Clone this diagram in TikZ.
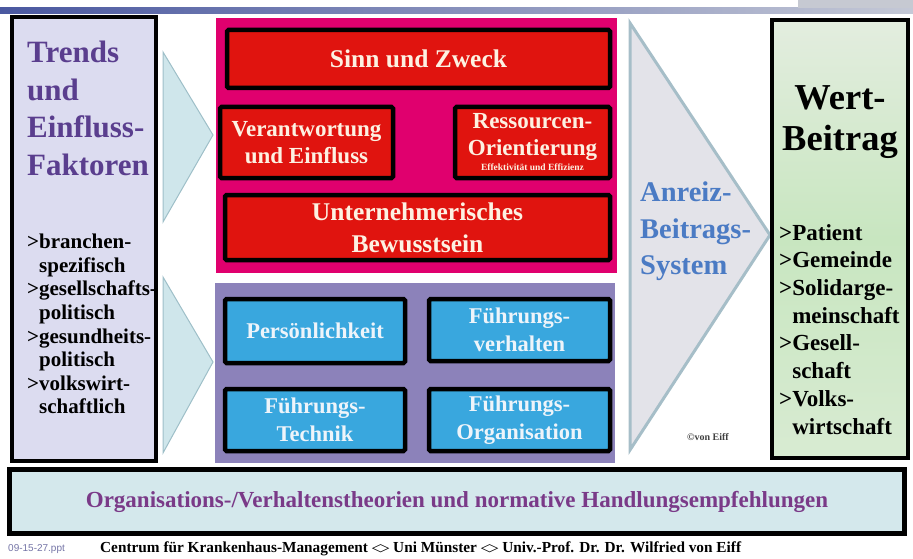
\documentclass[tikz,border=0pt]{standalone}
\usepackage{graphicx}
\usepackage{fontspec}
\setmainfont{Liberation Serif}
\setsansfont{Liberation Sans}
\newfontfamily\symfont{DejaVu Sans}
\usetikzlibrary{positioning}

\definecolor{barleft}{HTML}{4A58A0}
\definecolor{barright}{HTML}{C4C8D6}
\definecolor{topgray}{HTML}{C6C9D2}
\definecolor{leftfill}{HTML}{DCDCF0}
\definecolor{titlepurple}{HTML}{5A3E8E}
\definecolor{chevfill}{HTML}{CFE6EB}
\definecolor{chevline}{HTML}{9EBFC8}
\definecolor{magentabg}{HTML}{E0006E}
\definecolor{redfill}{HTML}{E0140F}
\definecolor{cream}{HTML}{FDF1E2}
\definecolor{purplebg}{HTML}{8C82BA}
\definecolor{bluefill}{HTML}{39A7DE}
\definecolor{bluetext}{HTML}{EEF4FA}
\definecolor{arrowfill}{HTML}{E3E3E9}
\definecolor{arrowline}{HTML}{A6BEC8}
\definecolor{anreizblue}{HTML}{4B7BC4}
\definecolor{greentop}{HTML}{E3EDDF}
\definecolor{greenmid}{HTML}{C8E6C0}
\definecolor{greenbot}{HTML}{D8EBD2}
\definecolor{bandfill}{HTML}{D4E8EC}
\definecolor{bandtext}{HTML}{7A3A88}
\definecolor{pptgray}{HTML}{7474A6}

\newcommand{\dia}{\raisebox{0.15ex}{\scalebox{1.5}[0.7]{\symfont ◇}}}

\begin{document}
\begin{tikzpicture}[x=1pt, y=-1pt,
  frame/.style={draw=black, line width=3.5pt, inner sep=0pt},
  redbox/.style={frame, line width=4.5pt, fill=redfill, rounded corners=1.5pt, text=cream, align=center,
    font=\bfseries\fontsize{23}{27}\selectfont},
  bluebox/.style={frame, line width=4.5pt, fill=bluefill, rounded corners=1.5pt, text=bluetext, align=center,
    font=\bfseries\fontsize{22.5}{28}\selectfont},
  chevron/.style={fill=chevfill, draw=chevline, line width=1pt}]
\useasboundingbox (0,0) rectangle (913,559);

% header strip
\shade[left color=barleft, right color=barright] (0,8) rectangle (913,13.5);
\fill[topgray] (798,0) rectangle (913,8);

% left column
\node[frame, fill=leftfill, minimum width=144pt, minimum height=444pt] (leftcol) at (84,239) {};
\node[anchor=north west, inner sep=0pt, align=left, text=titlepurple,
  font=\bfseries\fontsize{31}{37.5}\selectfont] (trends) at (27,41)
  {Trends\\und\\Einfluss-\\Faktoren};
\node[anchor=north west, inner sep=0pt, align=left,
  font=\bfseries\fontsize{21}{23.6}\selectfont] (faktoren) at (27,234)
  {>branchen-\\\hphantom{>}spezifisch\\>gesellschafts-\\\hphantom{>}politisch\\
   >gesundheits-\\\hphantom{>}politisch\\>volkswirt-\\\hphantom{>}schaftlich};

% chevrons
\draw[chevron] (163,52) -- (213,135) -- (163,222) -- cycle;
\draw[chevron] (163,277) -- (213,362) -- (163,453) -- cycle;

% upper panel
\fill[magentabg] (216,18) rectangle (617,273);
\node[redbox, minimum width=383pt, minimum height=58pt, font=\bfseries\fontsize{25.5}{27}\selectfont]
  (sinn) at (418.5,59) {Sinn und Zweck};
\node[redbox, minimum width=173pt, minimum height=71pt] (verant) at (306.5,142.5)
  {Verantwortung\\und Einfluss};
\node[redbox, minimum width=155pt, minimum height=71pt] (ressource) at (532.5,142.5)
  {Ressourcen-\\Orientierung\\[-12pt]{\fontsize{9.5}{10}\selectfont Effektivität und Effizienz}};
\node[redbox, minimum width=385pt, minimum height=65pt, font=\bfseries\fontsize{25.5}{32}\selectfont]
  (untern) at (417.5,227.5) {Unternehmerisches\\Bewusstsein};

% lower panel
\fill[purplebg] (215,283) rectangle (615,463);
\node[bluebox, minimum width=180pt, minimum height=64pt] (pers) at (315,331) {Persönlichkeit};
\node[bluebox, minimum width=181pt, minimum height=62pt] (fverh) at (519.5,330) {Führungs-\\verhalten};
\node[bluebox, minimum width=180pt, minimum height=62pt] (ftech) at (315,420) {Führungs-\\Technik};
\node[bluebox, minimum width=181pt, minimum height=62pt] (forg) at (519.5,420) {Führungs-\\Organisation};

% big arrow
\draw[fill=arrowfill, draw=arrowline, line width=3pt] (630,23) -- (770,235) -- (630,450) -- cycle;
\node[anchor=north west, inner sep=0pt, align=left, text=anreizblue,
  font=\bfseries\fontsize{28.5}{36.5}\selectfont] (anreiz) at (640,182)
  {Anreiz-\\Beitrags-\\System};
\node[font=\bfseries\fontsize{10}{10}\selectfont, text=black!75] (copy) at (708,437) {©von Eiff};

% right column
\node[frame, line width=4.5pt, top color=greentop, bottom color=greenbot, middle color=greenmid,
  minimum width=136pt, minimum height=438pt] (wertcol) at (840,239) {};
\node[align=center, inner sep=0pt, font=\bfseries\fontsize{36.5}{41}\selectfont] (wert) at (840,122)
  {Wert-\\Beitrag};
\node[anchor=north west, inner sep=0pt, align=left,
  font=\bfseries\fontsize{23}{27.7}\selectfont] (patient) at (779,224)
  {>Patient\\>Gemeinde\\>Solidarge-\\\hphantom{>}meinschaft\\>Gesell-\\\hphantom{>}schaft\\
   >Volks-\\\hphantom{>}wirtschaft};

% bottom band
\node[draw=black, line width=5pt, fill=bandfill, minimum width=895pt, minimum height=64pt,
  text=bandtext, font=\bfseries\fontsize{23}{23}\selectfont] (theorie) at (457,501.5)
  {Organisations-/Verhaltenstheorien und normative Handlungsempfehlungen};

% footer
\node[anchor=west, inner sep=0pt, text=pptgray, font=\sffamily\fontsize{10}{10}\selectfont] (ppt) at (8,549)
  {09-15-27.ppt};
\node[anchor=west, inner sep=0pt, font=\bfseries\fontsize{15.3}{15.3}\selectfont] (footer) at (100,549)
  {Centrum für Krankenhaus-Management \dia{} Uni Münster \dia{} Univ.-Prof. Dr. Dr. Wilfried von Eiff};
\end{tikzpicture}
\end{document}
